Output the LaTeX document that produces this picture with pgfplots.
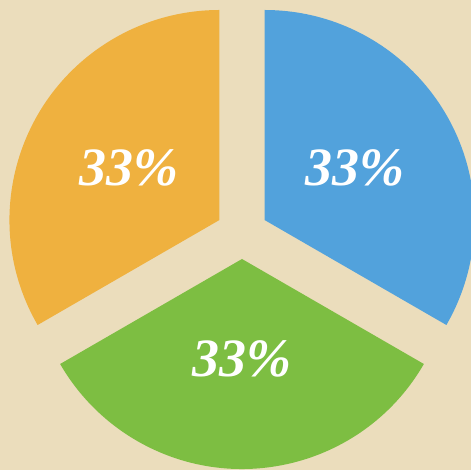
\documentclass[border=0pt]{standalone}
\usepackage{pgfplots}
\pgfplotsset{compat=1.18}
\usepackage{pgfplotstable}
\usepackage{fontspec}
\setmainfont{Liberation Serif}
\definecolor{parch}{HTML}{EBDDBC}
\definecolor{pieblue}{HTML}{52A2DC}
\definecolor{piegreen}{HTML}{7DBE42}
\definecolor{pieorange}{HTML}{EFB13F}

\pgfplotstableread{
slice value
Blue 33
Green 33
Orange 33
}\piedata

\begin{document}
\begin{tikzpicture}
\pgfplotstablegetelem{0}{value}\of\piedata \let\va\pgfplotsretval
\pgfplotstablegetelem{1}{value}\of\piedata \let\vb\pgfplotsretval
\pgfplotstablegetelem{2}{value}\of\piedata \let\vc\pgfplotsretval
\pgfmathsetmacro\tot{\va+\vb+\vc}
\def\cx{242}\def\cy{237}\def\dd{26}\def\rr{210}\def\lr{131}
\pgfmathsetmacro\aA{90}
\pgfmathsetmacro\aB{\aA-360*\va/\tot}
\pgfmathsetmacro\aC{\aB-360*\vb/\tot}
\pgfmathsetmacro\aD{\aC-360*\vc/\tot}
\pgfmathsetmacro\mA{(\aA+\aB)/2}
\pgfmathsetmacro\mB{(\aB+\aC)/2}
\pgfmathsetmacro\mC{(\aC+\aD)/2}
\pgfmathsetmacro\pAx{\cx+\dd*cos(\mA)}\pgfmathsetmacro\pAy{\cy+\dd*sin(\mA)}
\pgfmathsetmacro\pBx{\cx+\dd*cos(\mB)}\pgfmathsetmacro\pBy{\cy+\dd*sin(\mB)}
\pgfmathsetmacro\pCx{\cx+\dd*cos(\mC)}\pgfmathsetmacro\pCy{\cy+\dd*sin(\mC)}
\pgfmathsetmacro\lAx{\cx+\lr*cos(\mA)}\pgfmathsetmacro\lAy{\cy+\lr*sin(\mA)}
\pgfmathsetmacro\lBx{\cx+126*cos(\mB)}\pgfmathsetmacro\lBy{\cy+126*sin(\mB)}
\pgfmathsetmacro\lCx{\cx+\lr*cos(\mC)}\pgfmathsetmacro\lCy{\cy+\lr*sin(\mC)}
\begin{axis}[
  x=1pt, y=1pt, scale only axis,
  xmin=0, xmax=471, ymin=0, ymax=470,
  hide axis, clip=true,
  axis background/.style={fill=parch},
]
\addplot[draw=none] coordinates {(0,0) (471,470)};
\fill[pieblue] (axis cs:\pAx,\pAy) -- ++(\aA:\rr pt) arc[start angle=\aA, end angle=\aB, radius=\rr pt] -- cycle;
\fill[piegreen] (axis cs:\pBx,\pBy) -- ++(\aB:\rr pt) arc[start angle=\aB, end angle=\aC, radius=\rr pt] -- cycle;
\fill[pieorange] (axis cs:\pCx,\pCy) -- ++(\aC:\rr pt) arc[start angle=\aC, end angle=\aD, radius=\rr pt] -- cycle;
\tikzset{lab/.style={text=white, font=\fontsize{54}{54}\selectfont\bfseries\itshape, inner sep=0pt}}
\node[lab] at (axis cs:\lAx,\lAy) {33\%};
\node[lab] at (axis cs:\lBx,\lBy) {33\%};
\node[lab] at (axis cs:\lCx,\lCy) {33\%};
\end{axis}
\end{tikzpicture}
\end{document}
